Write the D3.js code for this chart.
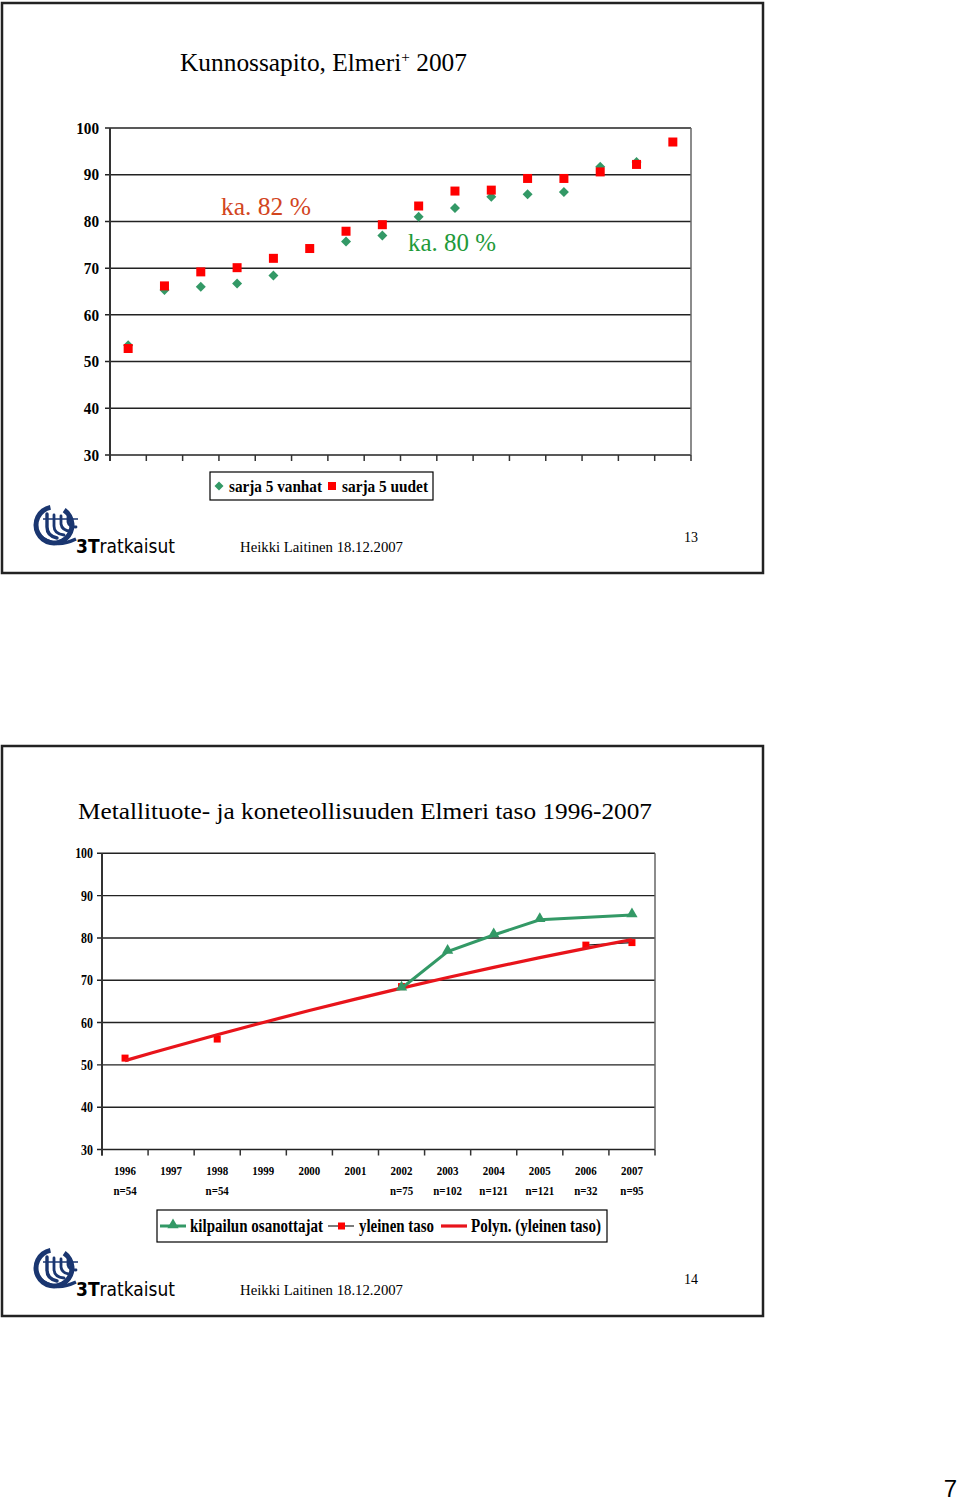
<!DOCTYPE html>
<html>
<head>
<meta charset="utf-8">
<script src="https://cdn.jsdelivr.net/npm/d3@7/dist/d3.min.js"></script>
<style>
  html, body { margin: 0; padding: 0; background: #fff; }
  svg { display: block; }
  text { font-family: "Liberation Serif", "Times New Roman", serif; }
</style>
</head>
<body>
<svg id="page" width="960" height="1501"></svg>
<script>
// ---------------- DATA ----------------
// Slide 13
const topTitle = "Kunnossapito, Elmeri";
const topCategories = ["1","2","3","4","5","6","7","8","9","10","11","12","13","14","15","16"];
const sarja5Vanhat = [53.5, 65.3, 66.0, 66.7, 68.4, null, 75.7, 77.0, 81.0, 82.9, 85.3, 85.8, 86.3, 91.7, 92.7, null];
const sarja5Uudet  = [52.8, 66.2, 69.2, 70.1, 72.1, 74.2, 77.9, 79.3, 83.3, 86.5, 86.7, 89.2, 89.2, 90.6, 92.2, 97.0];
const topYTicks = [30, 40, 50, 60, 70, 80, 90, 100];
const topLegend = ["sarja 5 vanhat", "sarja 5 uudet"];
const topAnnotations = ["ka. 82 %", "ka. 80 %"];

// Slide 14
const bottomTitle = "Metallituote- ja koneteollisuuden Elmeri taso 1996-2007";
const years = ["1996","1997","1998","1999","2000","2001","2002","2003","2004","2005","2006","2007"];
const nLabels = ["n=54","","n=54","","","","n=75","n=102","n=121","n=121","n=32","n=95"];
const kilpailunOsanottajat = [null, null, null, null, null, null, 68.1, 76.8, 80.7, 84.3, null, 85.4];
const yleinenTaso = [51.6, null, 56.1, null, null, null, 68.5, null, null, null, 78.3, 78.9];
const bottomYTicks = [30, 40, 50, 60, 70, 80, 90, 100];
const bottomLegend = ["kilpailun osanottajat", "yleinen taso", "Polyn. (yleinen taso)"];

const footerText = "Heikki Laitinen 18.12.2007";
const slideNumbers = ["13", "14"];
const pageNumber = "7";

// ---------------- HELPERS ----------------
const svg = d3.select("#page");
svg.append("rect").attr("width", 960).attr("height", 1501).attr("fill", "#fff");

const GREEN = "#339966", RED = "#ff0000", TREND = "#e8141b", NAVY = "#1a3670";

function fitWidth(sel, w) {
  sel.attr("textLength", w).attr("lengthAdjust", "spacingAndGlyphs");
}
function condense(sel, f) {
  sel.each(function () {
    const l = this.getComputedTextLength();
    d3.select(this).attr("textLength", l * f).attr("lengthAdjust", "spacingAndGlyphs");
  });
}
function diamond(g, x, y, r, color) {
  g.append("path").attr("d", `M${x},${y - r}L${x + r},${y}L${x},${y + r}L${x - r},${y}Z`).attr("fill", color);
}

function drawLogo(g, x0, y0) {
  const lg = g.append("g").attr("transform", `translate(${x0},${y0})`);
  const arc = d3.arc().innerRadius(15.5).outerRadius(20.5);
  lg.append("path").attr("transform", "translate(21,20)")
    .attr("d", arc({startAngle: 0.6, endAngle: 2 * Math.PI - 0.2}))
    .attr("fill", NAVY);
  const hooks = [
    "M14,9 L14,22 Q14,31 24,33",
    "M21,10 L21,21 Q21,29 31,30",
    "M28,11 L28,19 Q29,26 38,26",
    "M35,12 L35,17 Q36,22 43,22"
  ];
  hooks.forEach((d, i) => {
    lg.append("path").attr("d", d).attr("fill", "none").attr("stroke", NAVY)
      .attr("stroke-width", i === 0 ? 3.4 : 2.8).attr("stroke-linecap", "round");
  });
  lg.append("path").attr("d", "M5,29 Q20,45 43,34").attr("fill", "none").attr("stroke", NAVY).attr("stroke-width", 3.4);
  lg.append("path").attr("d", "M10,14 L45,14").attr("stroke", NAVY).attr("stroke-width", 1.6);
  const t = lg.append("text").attr("x", 43).attr("y", 48).attr("font-size", 19)
    .style("font-family", "'DejaVu Sans', 'Noto Sans', sans-serif");
  t.append("tspan").attr("font-weight", "bold").text("3T");
  t.append("tspan").text("ratkaisut");
  fitWidth(t, 99);
}

function frame(y) {
  svg.append("rect").attr("x", 2).attr("y", y).attr("width", 761).attr("height", 570)
    .attr("fill", "none").attr("stroke", "#222").attr("stroke-width", 2.5);
}

// ---------------- SLIDE 13 ----------------
frame(3);
{
  const t = svg.append("text").attr("x", 180).attr("y", 71).attr("font-size", 25).attr("fill", "#000");
  t.append("tspan").text(topTitle);
  t.append("tspan").attr("font-size", 15).attr("dy", -9).text("+");
  t.append("tspan").attr("dy", 9).text(" 2007");
  fitWidth(t, 287);
}

const x1 = d3.scaleBand().domain(topCategories).range([110, 691]).padding(0);
const y1 = d3.scaleLinear().domain([30, 100]).range([455, 128]);
const g1 = svg.append("g");

g1.selectAll("line.grid").data(topYTicks).join("line")
  .attr("x1", 105).attr("x2", 691).attr("y1", d => y1(d)).attr("y2", d => y1(d))
  .attr("stroke", "#222").attr("stroke-width", 1.5);
g1.append("line").attr("x1", 691).attr("x2", 691).attr("y1", y1(100)).attr("y2", y1(30))
  .attr("stroke", "#666").attr("stroke-width", 1.5);
g1.append("line").attr("x1", 110).attr("x2", 110).attr("y1", y1(100)).attr("y2", y1(30) + 6)
  .attr("stroke", "#333").attr("stroke-width", 2);
const edges1 = topCategories.map(c => x1(c)).concat([x1.range()[1]]);
g1.selectAll("line.xt").data(edges1).join("line")
  .attr("x1", d => d).attr("x2", d => d).attr("y1", y1(30)).attr("y2", y1(30) + 6)
  .attr("stroke", "#333").attr("stroke-width", 1.5);
g1.selectAll("text.yl").data(topYTicks).join("text")
  .attr("x", 99).attr("y", d => y1(d)).attr("dy", "0.36em").attr("text-anchor", "end")
  .attr("font-size", 16).attr("font-weight", "bold").text(d => d)
  .call(condense, 0.95);

const cx1 = i => x1(topCategories[i]) + x1.bandwidth() / 2;
sarja5Vanhat.forEach((v, i) => { if (v != null) diamond(g1, cx1(i), y1(v), 5, GREEN); });
sarja5Uudet.forEach((v, i) => {
  if (v != null) g1.append("rect").attr("x", cx1(i) - 4.5).attr("y", y1(v) - 4.5)
    .attr("width", 9).attr("height", 9).attr("fill", RED);
});

svg.append("text").attr("x", 221).attr("y", 215).attr("font-size", 25).attr("fill", "#d2451e")
  .text(topAnnotations[0]).call(fitWidth, 90);
svg.append("text").attr("x", 408).attr("y", 251).attr("font-size", 25).attr("fill", "#1f9a3a")
  .text(topAnnotations[1]).call(fitWidth, 88);

{
  const lg = svg.append("g");
  lg.append("rect").attr("x", 210).attr("y", 472).attr("width", 223).attr("height", 28)
    .attr("fill", "#fff").attr("stroke", "#000").attr("stroke-width", 1.2);
  diamond(lg, 219, 486, 4.5, GREEN);
  lg.append("text").attr("x", 229).attr("y", 492).attr("font-size", 16).attr("font-weight", "bold")
    .text(topLegend[0]).call(fitWidth, 93);
  lg.append("rect").attr("x", 328).attr("y", 482).attr("width", 8).attr("height", 8).attr("fill", RED);
  lg.append("text").attr("x", 342).attr("y", 492).attr("font-size", 16).attr("font-weight", "bold")
    .text(topLegend[1]).call(fitWidth, 86);
}

drawLogo(svg, 33, 505);
svg.append("text").attr("x", 240).attr("y", 552).attr("font-size", 14.5).text(footerText).call(fitWidth, 163);
svg.append("text").attr("x", 684).attr("y", 542).attr("font-size", 14).text(slideNumbers[0]);

// ---------------- SLIDE 14 ----------------
frame(746);
svg.append("text").attr("x", 78).attr("y", 819).attr("font-size", 24).text(bottomTitle).call(fitWidth, 574);

const x2 = d3.scaleBand().domain(years).range([102, 655]).padding(0);
const y2 = d3.scaleLinear().domain([30, 100]).range([1149.5, 853.3]);
const g2 = svg.append("g");

g2.selectAll("line.grid").data(bottomYTicks).join("line")
  .attr("x1", 97).attr("x2", 655).attr("y1", d => y2(d)).attr("y2", d => y2(d))
  .attr("stroke", "#222").attr("stroke-width", 1.4);
g2.append("line").attr("x1", 655).attr("x2", 655).attr("y1", y2(100)).attr("y2", y2(30))
  .attr("stroke", "#666").attr("stroke-width", 1.5);
g2.append("line").attr("x1", 102).attr("x2", 102).attr("y1", y2(100)).attr("y2", y2(30) + 6)
  .attr("stroke", "#333").attr("stroke-width", 2);
const edges2 = years.map(c => x2(c)).concat([x2.range()[1]]);
g2.selectAll("line.xt").data(edges2).join("line")
  .attr("x1", d => d).attr("x2", d => d).attr("y1", y2(30)).attr("y2", y2(30) + 6)
  .attr("stroke", "#333").attr("stroke-width", 1.5);
g2.selectAll("text.yl").data(bottomYTicks).join("text")
  .attr("x", 93).attr("y", d => y2(d)).attr("dy", "0.36em").attr("text-anchor", "end")
  .attr("font-size", 14).attr("font-weight", "bold").text(d => d)
  .call(condense, 0.85);

const cx2 = i => x2(years[i]) + x2.bandwidth() / 2;
g2.selectAll("text.year").data(years).join("text")
  .attr("x", (d, i) => cx2(i)).attr("y", 1175).attr("text-anchor", "middle")
  .attr("font-size", 13).attr("font-weight", "bold").text(d => d).call(condense, 0.84);
g2.selectAll("text.n").data(nLabels).join("text")
  .attr("x", (d, i) => cx2(i)).attr("y", 1195).attr("text-anchor", "middle")
  .attr("font-size", 13).attr("font-weight", "bold").text(d => d).call(condense, 0.84);

// yleinen taso: thin black line only between adjacent values (gaps), red squares
const line2gap = d3.line().defined(d => d != null).x((d, i) => cx2(i)).y(d => y2(d));
g2.append("path").attr("d", line2gap(yleinenTaso)).attr("fill", "none").attr("stroke", "#222").attr("stroke-width", 1.2);
const yleinenPts = yleinenTaso.map((v, i) => [i, v]).filter(d => d[1] != null);
g2.selectAll("rect.yt").data(yleinenPts).join("rect")
  .attr("x", d => cx2(d[0]) - 3.5).attr("y", d => y2(d[1]) - 3.5)
  .attr("width", 7).attr("height", 7).attr("fill", RED);

// polynomial (2nd order) trend of yleinen taso, least squares
function polyFit2(pts) {
  let S = [0, 0, 0, 0, 0], T = [0, 0, 0];
  pts.forEach(([x, y]) => {
    for (let k = 0; k < 5; k++) S[k] += Math.pow(x, k);
    for (let k = 0; k < 3; k++) T[k] += y * Math.pow(x, k);
  });
  const A = [[S[0], S[1], S[2], T[0]], [S[1], S[2], S[3], T[1]], [S[2], S[3], S[4], T[2]]];
  for (let i = 0; i < 3; i++) {
    for (let j = i + 1; j < 3; j++) {
      const f = A[j][i] / A[i][i];
      for (let k = i; k < 4; k++) A[j][k] -= f * A[i][k];
    }
  }
  const c = [0, 0, 0];
  for (let i = 2; i >= 0; i--) {
    let s = A[i][3];
    for (let k = i + 1; k < 3; k++) s -= A[i][k] * c[k];
    c[i] = s / A[i][i];
  }
  return x => c[0] + c[1] * x + c[2] * x * x;
}
const trendFn = polyFit2(yleinenPts);
const trendPts = years.map((y, i) => [i, trendFn(i)]);
g2.append("path").attr("d", d3.line().x(d => cx2(d[0])).y(d => y2(d[1])).curve(d3.curveCatmullRom)(trendPts))
  .attr("fill", "none").attr("stroke", TREND).attr("stroke-width", 3.2);

// kilpailun osanottajat green line (spanning gap) + triangles
const kilpPts = kilpailunOsanottajat.map((v, i) => [i, v]).filter(d => d[1] != null);
const line2 = d3.line().x(d => cx2(d[0])).y(d => y2(d[1]));
g2.append("path").attr("d", line2(kilpPts)).attr("fill", "none").attr("stroke", GREEN).attr("stroke-width", 3);
const tri = d3.symbol().type(d3.symbolTriangle).size(55);
g2.selectAll("path.tri").data(kilpPts).join("path")
  .attr("transform", d => `translate(${cx2(d[0])},${y2(d[1]) - 1})`).attr("d", tri).attr("fill", GREEN);

{
  const lg = svg.append("g");
  lg.append("rect").attr("x", 157).attr("y", 1210).attr("width", 450).attr("height", 32)
    .attr("fill", "#fff").attr("stroke", "#000").attr("stroke-width", 1.2);
  const cy = 1226;
  lg.append("line").attr("x1", 160).attr("x2", 186).attr("y1", cy).attr("y2", cy).attr("stroke", GREEN).attr("stroke-width", 3);
  lg.append("path").attr("transform", `translate(173,${cy - 1})`).attr("d", tri).attr("fill", GREEN);
  lg.append("text").attr("x", 190).attr("y", cy + 6).attr("font-size", 18).attr("font-weight", "bold")
    .text(bottomLegend[0]).call(fitWidth, 133);
  lg.append("line").attr("x1", 328).attr("x2", 354).attr("y1", cy).attr("y2", cy).attr("stroke", "#222").attr("stroke-width", 1.2);
  lg.append("rect").attr("x", 338).attr("y", cy - 3.5).attr("width", 7).attr("height", 7).attr("fill", RED);
  lg.append("text").attr("x", 359).attr("y", cy + 6).attr("font-size", 18).attr("font-weight", "bold")
    .text(bottomLegend[1]).call(fitWidth, 75);
  lg.append("line").attr("x1", 441).attr("x2", 467).attr("y1", cy).attr("y2", cy).attr("stroke", TREND).attr("stroke-width", 3.2);
  lg.append("text").attr("x", 471).attr("y", cy + 6).attr("font-size", 18).attr("font-weight", "bold")
    .text(bottomLegend[2]).call(fitWidth, 130);
}

drawLogo(svg, 33, 1248);
svg.append("text").attr("x", 240).attr("y", 1295).attr("font-size", 14.5).text(footerText).call(fitWidth, 163);
svg.append("text").attr("x", 684).attr("y", 1284).attr("font-size", 14).text(slideNumbers[1]);

svg.append("text").attr("x", 957).attr("y", 1497).attr("text-anchor", "end").attr("font-size", 24)
  .style("font-family", "'Liberation Sans', Arial, sans-serif").text(pageNumber);
</script>
</body>
</html>
